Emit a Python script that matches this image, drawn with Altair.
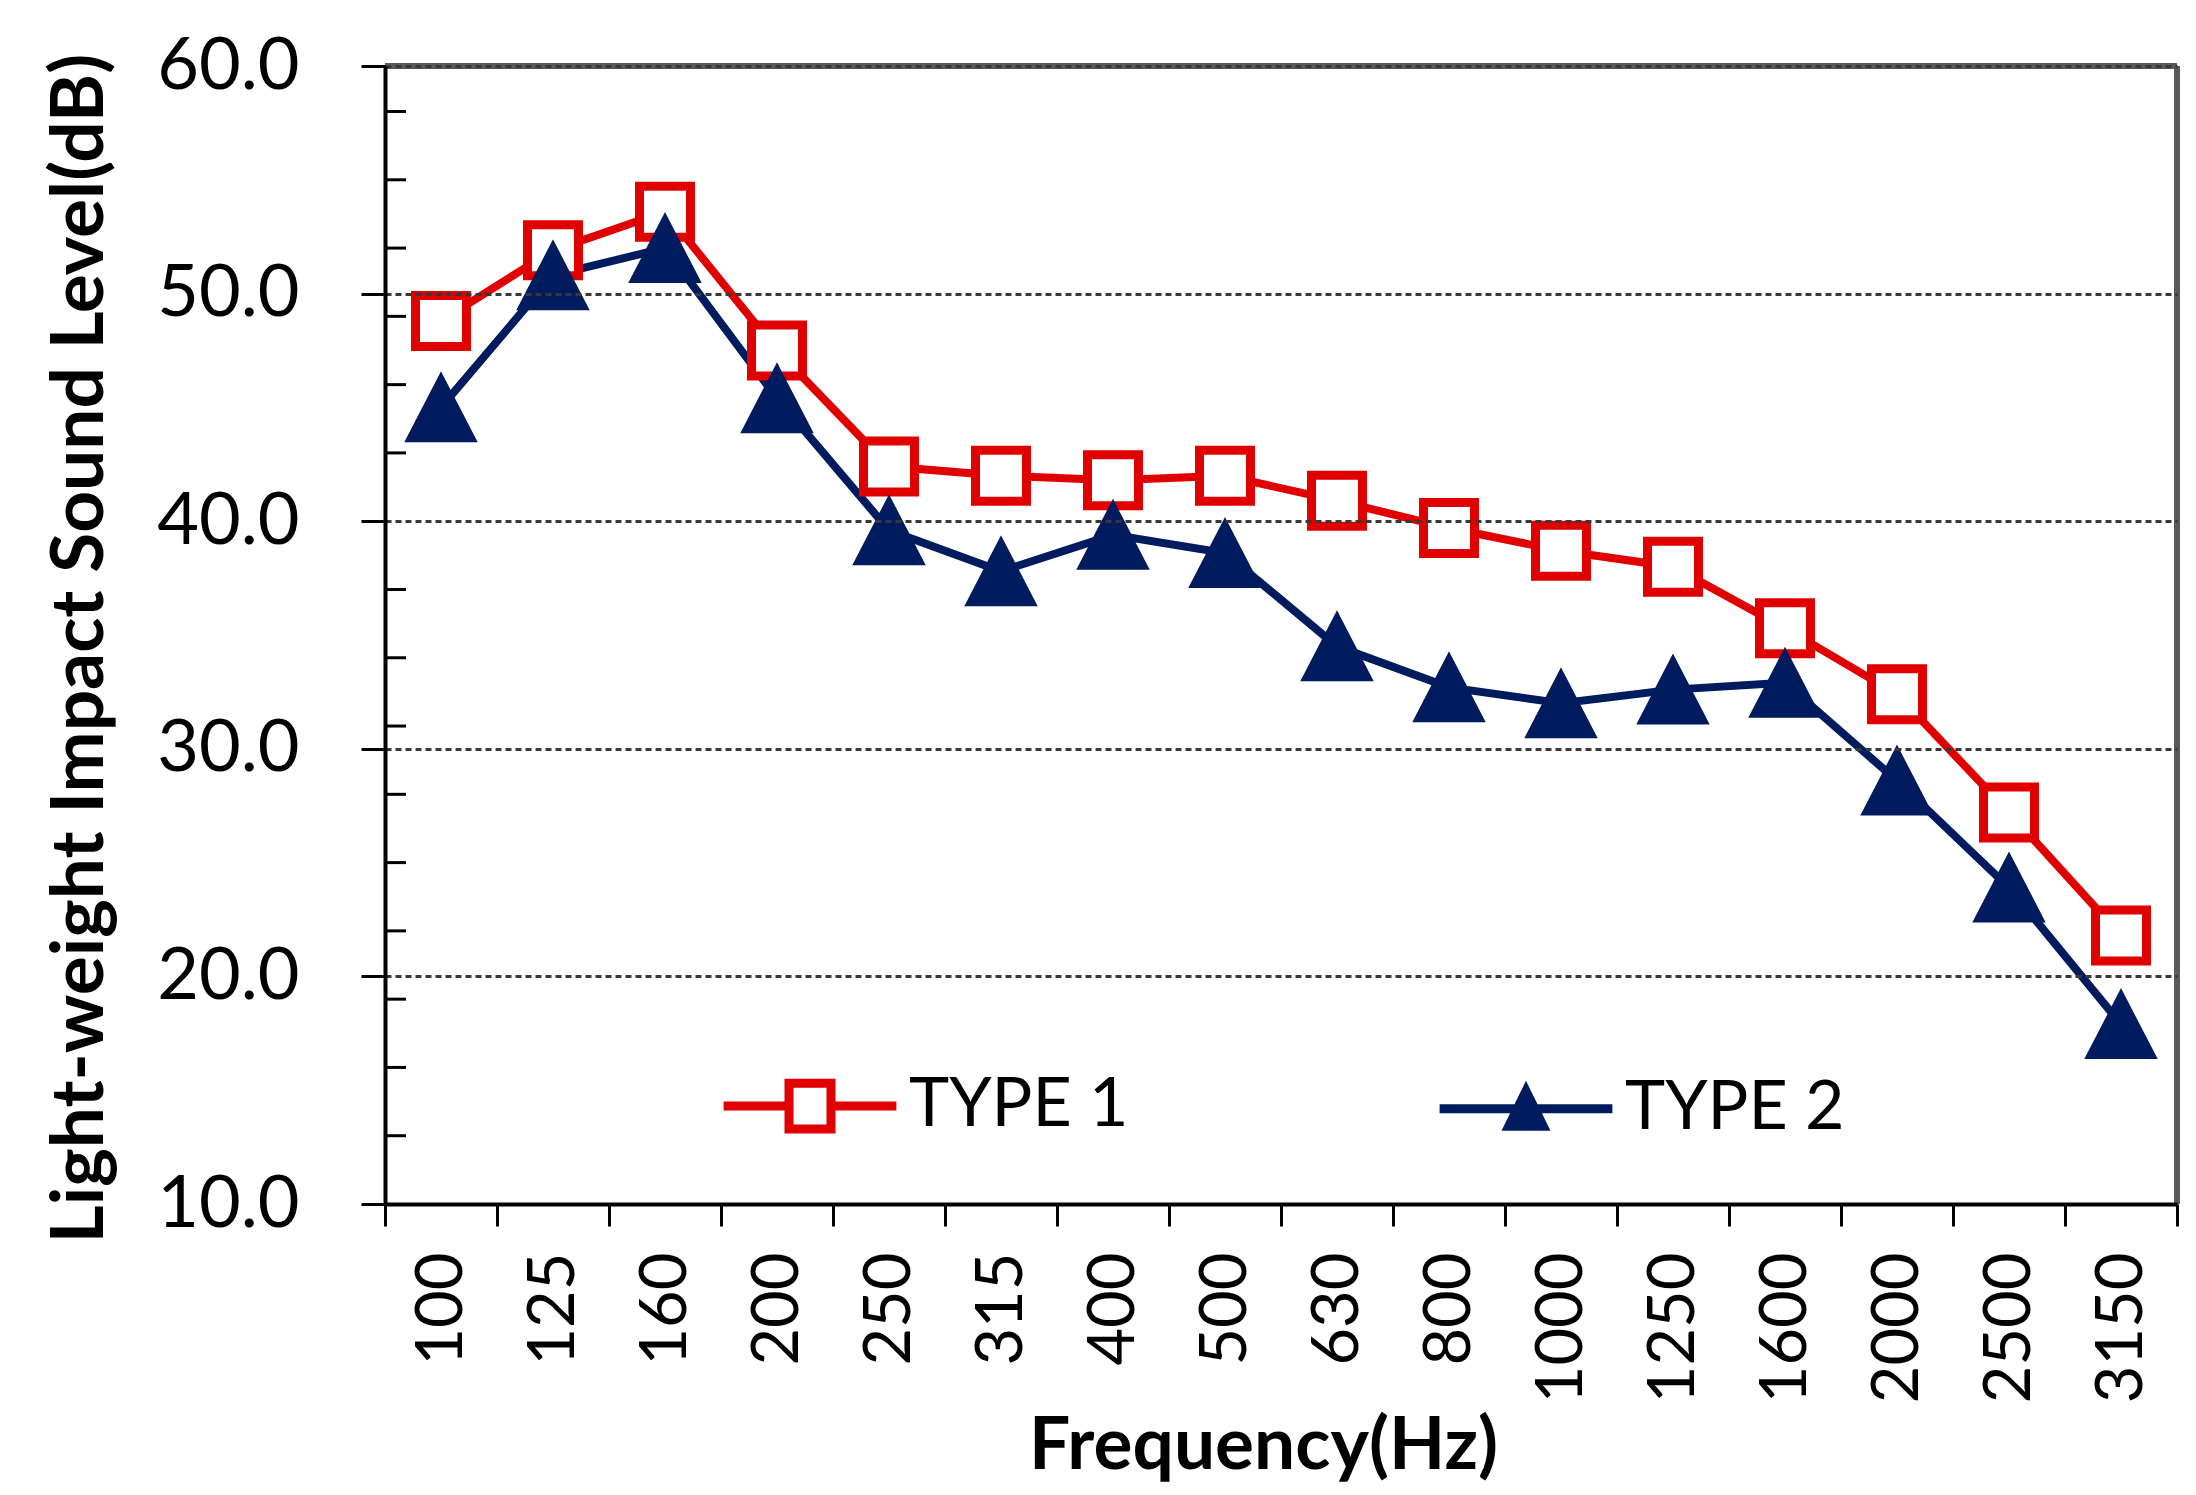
import altair as alt
import pandas as pd

# ---- data ----
freqs = ["100", "125", "160", "200", "250", "315", "400", "500",
         "630", "800", "1000", "1250", "1600", "2000", "2500", "3150"]
type1 = [48.8, 51.9, 53.6, 47.5, 42.4, 42.0, 41.8, 42.0,
         40.9, 39.7, 38.7, 38.0, 35.3, 32.4, 27.2, 21.8]
type2 = [45.0, 50.8, 52.0, 45.4, 39.6, 37.8, 39.4, 38.6,
         34.5, 32.7, 32.0, 32.6, 32.9, 28.6, 23.9, 17.9]
series_names = ["TYPE 1", "TYPE 2"]
y_ticks = [10, 20, 30, 40, 50, 60]
minor_ticks = [13, 16, 19, 22, 25, 28, 31, 34, 37, 43, 46, 49, 52, 55, 58]

RED = "#E00000"
NAVY = "#001C5E"
FONT = "Lato"
W, H = 1792, 1138

df = pd.DataFrame({
    "freq": freqs * 2,
    "level": type1 + type2,
    "type": [series_names[0]] * len(freqs) + [series_names[1]] * len(freqs),
})
minor_df = pd.DataFrame({"level": minor_ticks})
legend_df = pd.DataFrame({"type": series_names,
                          "freq": [freqs[0]] * 2,
                          "level": [y_ticks[0]] * 2})

yscale = alt.Scale(domain=[y_ticks[0], y_ticks[-1]], nice=False, zero=False)
xscale = alt.Scale(type="band", paddingInner=0, paddingOuter=0)

Y_TITLE = "Light-weight Impact Sound Level(dB)"

x_enc = alt.X("freq:N", sort=freqs, scale=xscale, title="Frequency(Hz)",
              axis=alt.Axis(labelAngle=-90, labelFont=FONT, labelFontSize=65,
                            labelColor="black", labelPadding=26,
                            tickBand="extent", tickSize=22, tickWidth=3,
                            tickColor="black", domainColor="black",
                            domainWidth=4, grid=False,
                            titleFont=FONT, titleFontSize=73,
                            titleFontWeight="bold", titleColor="black",
                            titlePadding=8, titleX=878, zindex=2))
y_axis = alt.Axis(values=y_ticks, format=".1f", labelFont=FONT,
                  labelFontSize=72, labelColor="black",
                  labelPadding=62, tickSize=24, tickWidth=3,
                  tickColor="black", domainColor="black",
                  domainWidth=4, grid=True, gridColor="#383838",
                  gridWidth=3, gridDash=[6, 4],
                  titleFont=FONT, titleFontSize=73,
                  titleFontWeight="bold", titleColor="black",
                  titlePadding=68, titleY=582, zindex=2)


def y_enc():
    return alt.Y("level:Q", scale=yscale, title=Y_TITLE, axis=y_axis)


dom = series_names

lines = alt.Chart(df).mark_line(strokeWidth=8).encode(
    x=x_enc, y=y_enc(),
    color=alt.Color("type:N", scale=alt.Scale(domain=dom, range=[RED, NAVY]),
                    legend=None),
)

sq_path = "M-0.85,-0.85H0.85V0.85H-0.85Z"
tri_path = "M0,-1.13L1.17,1.13L-1.17,1.13Z"
points = alt.Chart(df).mark_point(filled=True, size=3600, opacity=1).encode(
    x=x_enc, y=y_enc(),
    shape=alt.Shape("type:N", scale=alt.Scale(domain=dom, range=[sq_path, tri_path]),
                    legend=None),
    fill=alt.Fill("type:N", scale=alt.Scale(domain=dom, range=["white", NAVY]),
                  legend=None),
    stroke=alt.Stroke("type:N", scale=alt.Scale(domain=dom, range=[RED, NAVY]),
                      legend=None),
    strokeWidth=alt.StrokeWidth("type:N", scale=alt.Scale(domain=dom, range=[9, 2]),
                                legend=None),
)

leg_sq = "M-3.6,0H-0.875M0.875,0H3.6M-0.875,-0.95H0.875V0.95H-0.875Z"
leg_tri = "M-3.6,0H3.6M0,-0.75L0.72,0.72L-0.72,0.72Z"
legend_layer = alt.Chart(legend_df).mark_point(filled=True, size=2304, opacity=0).encode(
    x=x_enc, y=y_enc(),
    shape=alt.Shape("type:N", scale=alt.Scale(domain=dom, range=[leg_sq, leg_tri]),
                    legend=alt.Legend(title=None, orient="none", direction="horizontal",
                                      legendX=391, legendY=1006, padding=0,
                                      labelFont=FONT, labelFontSize=68,
                                      labelColor="black", labelLimit=500,
                                      labelOffset=65, columnPadding=292,
                                      symbolSize=2304, symbolStrokeWidth=9,
                                      symbolOpacity=1)),
    fill=alt.Fill("type:N", scale=alt.Scale(domain=dom, range=["white", NAVY])),
    stroke=alt.Stroke("type:N", scale=alt.Scale(domain=dom, range=[RED, NAVY])),
)

minor = alt.Chart(minor_df).mark_rule(color="black", strokeWidth=3).encode(
    y=y_enc(),
    x=alt.value(0), x2=alt.value(21),
)

top_border = alt.Chart(minor_df).mark_rule(color="#595959", strokeWidth=5).encode(
    y=alt.datum(y_ticks[-1]), x=alt.value(0), x2=alt.value(W),
)
right_border = alt.Chart(minor_df).mark_rule(color="#595959", strokeWidth=5).encode(
    x=alt.value(W), y=alt.datum(y_ticks[0]), y2=alt.datum(y_ticks[-1]),
)

chart = alt.layer(
    lines, minor, top_border, right_border, points, legend_layer
).resolve_scale(
    color="independent", shape="independent", fill="independent",
    stroke="independent", strokeWidth="independent"
).properties(
    width=W, height=H,
    padding={"left": 377, "top": 58, "right": 11, "bottom": 283},
    autosize=alt.AutoSizeParams(type="none"),
    background="white",
).configure_view(stroke=None)

chart.save("out.html", embed_options={"renderer": "svg", "actions": False})
